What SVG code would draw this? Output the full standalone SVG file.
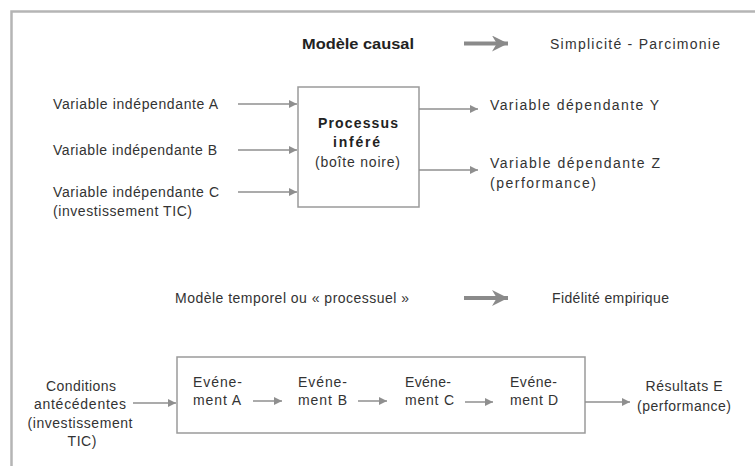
<svg xmlns="http://www.w3.org/2000/svg" width="755" height="466" viewBox="0 0 755 466">
  <style>
    text { font-family: "Liberation Sans", Arial, sans-serif; font-size: 14px; fill: #333; }
    .b { font-weight: bold; fill: #222; }
    .c { text-anchor: middle; }
    .box { fill: #fff; stroke: #9a9a9a; stroke-width: 1.5; }
    .ln { stroke: #8f8f8f; stroke-width: 1.5; fill: none; marker-end: url(#head); }
    .big { stroke: #8a8a8a; stroke-width: 4; fill: none; marker-end: url(#bighead); }
    .frame { stroke: #b5b5b5; stroke-width: 2.5; fill: none; }
  </style>
  <defs>
    <marker id="head" viewBox="0 0 10 10" refX="10" refY="5" markerWidth="8" markerHeight="8" markerUnits="userSpaceOnUse" orient="auto">
      <path d="M0,0 L10,5 L0,10 z" fill="#8f8f8f"/>
    </marker>
    <marker id="bighead" viewBox="0 0 10 10" refX="10" refY="5" markerWidth="16" markerHeight="16" markerUnits="userSpaceOnUse" orient="auto">
      <path d="M0,0 L10,5 L0,10 L3,5 z" fill="#8a8a8a"/>
    </marker>
  </defs>
  <rect width="755" height="466" fill="#fff"/>
  <!-- outer frame (open to the right and bottom) -->
  <path class="frame" d="M11.5,466 V11.5 H755"/>

  <!-- causal model -->
  <g id="titre-causal">
    <text class="b" x="302" y="49" textLength="112" lengthAdjust="spacingAndGlyphs">Modèle causal</text>
  </g>
  <g id="simplicite">
    <text x="550" y="49" textLength="170" lengthAdjust="spacing">Simplicité - Parcimonie</text>
  </g>
  <g id="var-a">
    <text x="53" y="109" textLength="165" lengthAdjust="spacing">Variable indépendante A</text>
  </g>
  <g id="var-b">
    <text x="53" y="155" textLength="164" lengthAdjust="spacing">Variable indépendante B</text>
  </g>
  <g id="var-c">
    <text x="53" y="197" textLength="166" lengthAdjust="spacing">Variable indépendante C</text>
    <text x="53" y="216" textLength="139" lengthAdjust="spacing">(investissement TIC)</text>
  </g>
  <g id="processus">
    <rect class="box" x="298" y="87" width="121" height="120"/>
    <text class="b" x="318" y="128" textLength="80" lengthAdjust="spacing">Processus</text>
    <text class="b" x="333" y="147" textLength="47" lengthAdjust="spacing">inféré</text>
    <text x="315" y="167" textLength="85" lengthAdjust="spacing">(boîte noire)</text>
  </g>
  <g id="var-y">
    <text x="490" y="110" textLength="169" lengthAdjust="spacing">Variable dépendante Y</text>
  </g>
  <g id="var-z">
    <text x="490" y="168" textLength="170" lengthAdjust="spacing">Variable dépendante Z</text>
    <text x="490" y="188" textLength="106" lengthAdjust="spacing">(performance)</text>
  </g>

  <!-- temporal / process model -->
  <g id="titre-temporel">
    <text x="175" y="303" textLength="234" lengthAdjust="spacing">Modèle temporel ou « processuel »</text>
  </g>
  <g id="fidelite">
    <text x="552" y="303" textLength="117" lengthAdjust="spacing">Fidélité empirique</text>
  </g>
  <g id="conditions">
    <text class="c" x="81" y="391" textLength="70" lengthAdjust="spacing">Conditions</text>
    <text class="c" x="80" y="409" textLength="92" lengthAdjust="spacing">antécédentes</text>
    <text class="c" x="80" y="428" textLength="105" lengthAdjust="spacing">(investissement</text>
    <text class="c" x="82" y="446" textLength="29" lengthAdjust="spacing">TIC)</text>
  </g>
  <g id="sequence">
    <rect class="box" x="177" y="357" width="408" height="76"/>
  </g>
  <g id="evenement-a">
    <text x="193" y="387" textLength="49" lengthAdjust="spacing">Evéne-</text>
    <text x="193" y="405" textLength="48" lengthAdjust="spacing">ment A</text>
  </g>
  <g id="evenement-b">
    <text x="298" y="387" textLength="49" lengthAdjust="spacing">Evéne-</text>
    <text x="298" y="405" textLength="49" lengthAdjust="spacing">ment B</text>
  </g>
  <g id="evenement-c">
    <text x="405" y="387" textLength="46" lengthAdjust="spacing">Evéne-</text>
    <text x="405" y="405" textLength="49" lengthAdjust="spacing">ment C</text>
  </g>
  <g id="evenement-d">
    <text x="510" y="387" textLength="47" lengthAdjust="spacing">Evéne-</text>
    <text x="510" y="405" textLength="48" lengthAdjust="spacing">ment D</text>
  </g>
  <g id="resultats">
    <text class="c" x="684" y="391" textLength="77" lengthAdjust="spacing">Résultats E</text>
    <text class="c" x="684" y="411" textLength="94" lengthAdjust="spacing">(performance)</text>
  </g>

  <!-- connectors -->
  <g id="connecteurs">
    <path class="big" d="M464,43.5 H508"/>
    <path class="big" d="M464,298 H508"/>
    <path class="ln" d="M238,104 H297"/>
    <path class="ln" d="M238,150 H297"/>
    <path class="ln" d="M238,192 H297"/>
    <path class="ln" d="M419,109 H478"/>
    <path class="ln" d="M419,170 H478"/>
    <path class="ln" d="M133,403 H176"/>
    <path class="ln" d="M253,401 H282"/>
    <path class="ln" d="M358,401 H387"/>
    <path class="ln" d="M465,402 H493"/>
    <path class="ln" d="M585,402 H630"/>
  </g>
</svg>
